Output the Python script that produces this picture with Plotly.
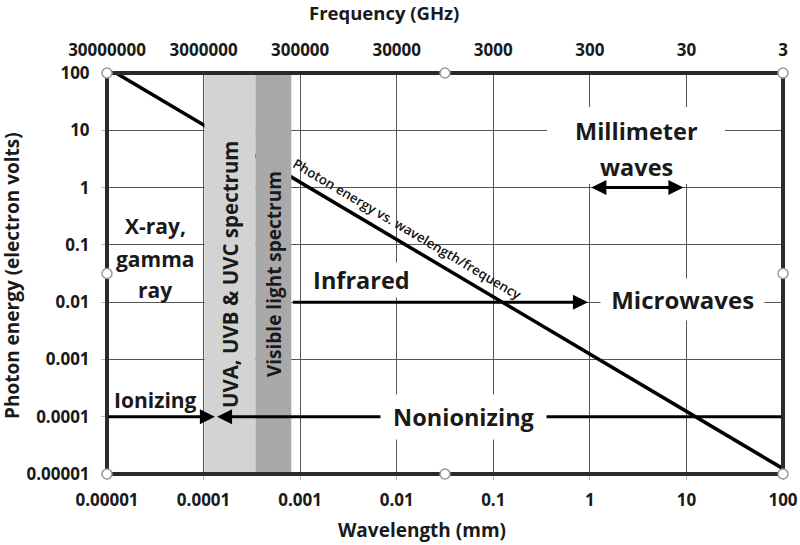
import numpy as np
import plotly.graph_objects as go

# ---- data ----
wavelength_ticks = [0.00001, 0.0001, 0.001, 0.01, 0.1, 1, 10, 100]
wavelength_labels = ["0.00001", "0.0001", "0.001", "0.01", "0.1", "1", "10", "100"]
frequency_labels = ["30000000", "3000000", "300000", "30000", "3000", "300", "30", "3"]
energy_ticks = [0.00001, 0.0001, 0.001, 0.01, 0.1, 1, 10, 100]
energy_labels = ["0.00001", "0.0001", "0.001", "0.01", "0.1", "1", "10", "100"]

# photon energy vs wavelength line (eV vs mm)
line_wavelength = [0.0000124, 0.0001, 0.0008, 100]
line_energy = [100, 12.4, 1.55, 0.0000124]

# spectral bands (mm)
uv_band = [0.000102, 0.000345]
visible_band = [0.000345, 0.00081]

# arrows
ionizing_arrow = [0.00001, 0.000131]          # at 0.0001 eV
nonionizing_arrow = [100, 0.000138]           # at 0.0001 eV
infrared_arrow = [0.00081, 0.955]             # at 0.01 eV
millimeter_arrow = [1.0, 9.3]                 # at 1 eV
ionizing_level = 0.0001
infrared_level = 0.01
millimeter_level = 1

FONT = "Open Sans"
L = np.log10

fig = go.Figure()
fig.add_trace(go.Scatter(x=line_wavelength, y=line_energy, mode="lines",
                         line=dict(color="black", width=3.5), showlegend=False,
                         hoverinfo="skip"))
# invisible trace to activate the top axis
fig.add_trace(go.Scatter(x=wavelength_ticks, y=energy_ticks, xaxis="x2", mode="markers",
                         marker=dict(opacity=0), showlegend=False, hoverinfo="skip"))

tickfont = dict(family=FONT, size=17, color="#1a1a1a", weight="bold")
fig.update_layout(
    width=800, height=545,
    margin=dict(l=107, r=17, t=73, b=71, autoexpand=False),
    paper_bgcolor="white", plot_bgcolor="white",
    xaxis=dict(type="log", range=[-5, 2], tickvals=wavelength_ticks, ticktext=wavelength_labels,
               showgrid=True, gridcolor="#555555", gridwidth=1.2, zeroline=False, showline=False,
               ticks="outside", ticklen=5, tickcolor="#bbbbbb", tickfont=tickfont,
               ticklabelstandoff=6, automargin=False),
    xaxis2=dict(type="log", range=[-5, 2], overlaying="x", side="top", anchor="y",
                tickvals=wavelength_ticks, ticktext=frequency_labels, showgrid=False,
                zeroline=False, showline=False, ticks="", tickfont=tickfont,
                ticklabelstandoff=13, automargin=False),
    yaxis=dict(type="log", range=[-5, 2], tickvals=energy_ticks, ticktext=energy_labels,
               showgrid=True, gridcolor="#555555", gridwidth=1.2, zeroline=False, showline=False,
               ticks="outside", ticklen=5, tickcolor="#bbbbbb", tickfont=tickfont,
               ticklabelstandoff=8, automargin=False),
)

def px(xp):
    return (xp - 107) / 676

def py(yp):
    return (474 - yp) / 401

shapes = []
# bands cover gridlines and line
shapes.append(dict(type="rect", xref="x", yref="paper", x0=uv_band[0], x1=uv_band[1], y0=0, y1=1,
                   fillcolor="#d3d3d3", line=dict(width=0), layer="above"))
shapes.append(dict(type="rect", xref="x", yref="paper", x0=visible_band[0], x1=visible_band[1], y0=0, y1=1,
                   fillcolor="#a9a9a9", line=dict(width=0), layer="above"))
# white text box behind "Millimeter waves"
shapes.append(dict(type="rect", xref="paper", yref="paper", x0=px(547), x1=px(725), y0=py(184), y1=py(107),
                   fillcolor="white", line=dict(width=0), layer="above"))
# frame
shapes.append(dict(type="rect", xref="paper", yref="paper", x0=0, x1=1, y0=0, y1=1,
                   line=dict(color="#2a2a2a", width=4), layer="above"))
# selection handles
for hx in [0, 0.5, 1]:
    for hy in [0, 0.5, 1]:
        if hx == 0.5 and hy == 0.5:
            continue
        shapes.append(dict(type="circle", xref="paper", yref="paper", xsizemode="pixel",
                           ysizemode="pixel", xanchor=hx, yanchor=hy, x0=-5, x1=5, y0=-5, y1=5,
                           fillcolor="white", line=dict(color="#9a9a9a", width=1.5), layer="above"))
fig.update_layout(shapes=shapes)

ann = []
def arrow(x_tail, x_head, y, both=False):
    ann.append(dict(x=L(x_head), y=L(y), ax=L(x_tail), ay=L(y), xref="x", yref="y",
                    axref="x", ayref="y", showarrow=True, arrowhead=2, arrowsize=1,
                    arrowwidth=3, arrowcolor="black", text="",
                    arrowside="end+start" if both else "end", startarrowhead=2, startarrowsize=1))

def label(text, xl, yl, size=21, bg=None, angle=0, weight="bold", color="#1a1a1a", pad=1):
    d = dict(x=xl, y=yl, xref="x", yref="y", text=text, showarrow=False, textangle=angle,
             xanchor="center", yanchor="middle", borderpad=pad,
             font=dict(family=FONT, size=size, color=color, weight=weight))
    if bg:
        d["bgcolor"] = bg
    ann.append(d)

arrow(ionizing_arrow[0], ionizing_arrow[1], ionizing_level)
arrow(nonionizing_arrow[0], nonionizing_arrow[1], ionizing_level)
arrow(infrared_arrow[0], infrared_arrow[1], infrared_level)
arrow(millimeter_arrow[0], millimeter_arrow[1], millimeter_level, both=True)

NB = "\u00a0"
label("X-ray,", -4.50, -0.67)
label("gamma", -4.50, -1.25)
label("ray", -4.50, -1.79)
label("Ionizing", -4.50, -3.71, size=21)
label(NB + "Nonionizing" + NB, -1.313, -4.0, size=23.5, bg="white", pad=6)
label(NB + "Infrared" + NB, -2.36, -1.62, size=23.5, bg="white", pad=1)
label(NB + "Microwaves" + NB, 0.964, -1.95, size=24, bg="white", pad=4)
label("Millimeter", 0.488, 0.985, size=23.5)
label("waves", 0.488, 0.36, size=23.5)
label("UVA, UVB &amp; UVC spectrum", -3.726, -1.51, size=20.5, angle=-90)
label("Visible light spectrum", -3.271, -1.51, size=19, angle=-90)
label("Photon energy vs. wavelength/frequency", -1.890, -0.72, size=13.3, angle=30.6,
      weight=600, color="#111111")

# axis titles
ann.append(dict(x=px(384), y=py(12), xref="paper", yref="paper",
                xanchor="center", yanchor="middle",
                text="Frequency (GHz)", showarrow=False,
                font=dict(family=FONT, size=18.5, color="#1a1a1a", weight="bold")))
ann.append(dict(x=px(422), y=py(530), xref="paper", yref="paper",
                xanchor="center", yanchor="middle",
                text="Wavelength (mm)", showarrow=False,
                font=dict(family=FONT, size=19, color="#1a1a1a", weight="bold")))
ann.append(dict(x=px(12), y=py(276), xref="paper", yref="paper", textangle=-90,
                xanchor="center", yanchor="middle",
                text="Photon energy (electron volts)", showarrow=False,
                font=dict(family=FONT, size=19, color="#1a1a1a", weight="bold")))
fig.update_layout(annotations=ann)

fig.write_html("out.html", config={"displayModeBar": False},
               post_script="document.body.style.margin='0px';")
